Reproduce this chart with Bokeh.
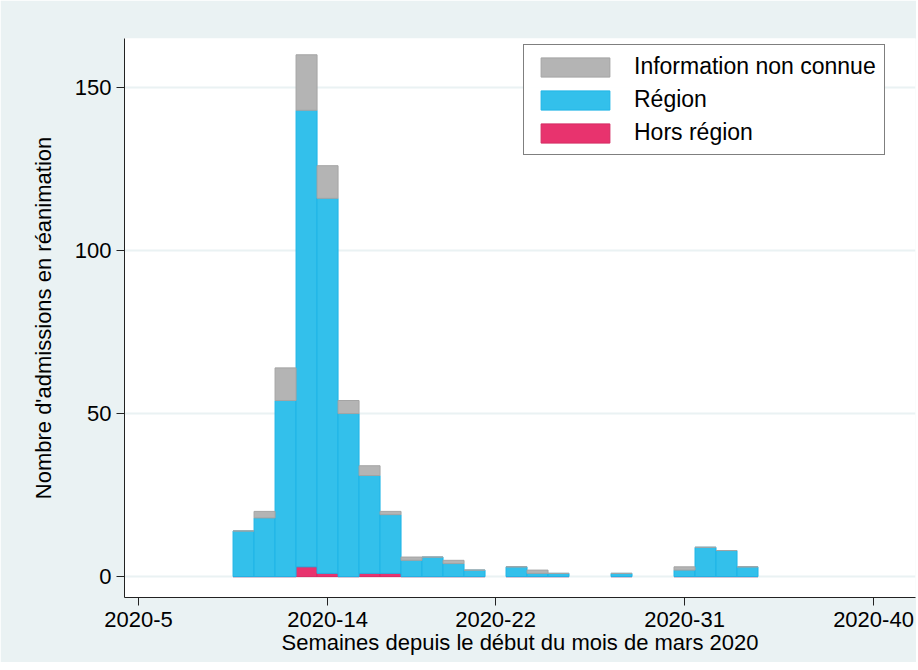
from bokeh.plotting import figure
from bokeh.models import ColumnDataSource, Legend, LegendItem, FixedTicker
from bokeh.embed import file_html
from bokeh.resources import INLINE

weeks = [10, 11, 12, 13, 14, 15, 16, 17, 18, 19, 20, 21, 23, 24, 25, 28, 31, 32, 33, 34]
hors = [0, 0, 0, 3, 1, 0, 1, 1, 0, 0, 0, 0, 0, 0, 0, 0, 0, 0, 0, 0]
region = [14, 18, 54, 140, 115, 50, 30, 18, 5, 6, 4, 2, 3, 1, 1, 1, 2, 9, 8, 3]
inconnue = [0, 2, 10, 17, 10, 4, 3, 1, 1, 0, 1, 0, 0, 1, 0, 0, 1, 0, 0, 0]
tick_pos = [5, 14, 22, 31, 40]
tick_labels = ["2020-5", "2020-14", "2020-22", "2020-31", "2020-40"]

src = ColumnDataSource(dict(week=weeks, hors=hors, region=region, inconnue=inconnue))

bg = "#eaf2f3"
p = figure(width=916, height=662, x_range=(4.33, 42), y_range=(-6.4, 165),
           output_backend="svg", toolbar_location=None, tools="",
           background_fill_color="white", border_fill_color=bg,
           min_border_left=124, min_border_top=38, min_border_right=1, min_border_bottom=65)
p.outline_line_color = None

r = p.vbar_stack(["hors", "region", "inconnue"], x="week", width=1.0, source=src,
                 fill_color=["#e8336e", "#33c0eb", "#b4b4b4"],
                 line_color=["#d42a62", "#1eb4e6", "#a4a4a4"], line_width=1)

legend = Legend(items=[LegendItem(label="Information non connue", renderers=[r[2]]),
                       LegendItem(label="Région", renderers=[r[1]]),
                       LegendItem(label="Hors région", renderers=[r[0]])],
                location=(399, 442))
legend.margin = 0
legend.padding = 8
legend.label_text_font = "Liberation Sans"
legend.label_text_font_size = "23px"
legend.label_text_color = "black"
legend.border_line_color = "black"
legend.border_line_width = 1
legend.glyph_width = 86
legend.glyph_height = 24
legend.spacing = 6
legend.label_standoff = 16
legend.label_height = 24
p.add_layout(legend)

p.xaxis.ticker = FixedTicker(ticks=tick_pos)
p.xaxis.major_label_overrides = {t: l for t, l in zip(tick_pos, tick_labels)}
p.yaxis.ticker = FixedTicker(ticks=[0, 50, 100, 150])
p.xaxis.axis_label = "Semaines depuis le début du mois de mars 2020"
p.yaxis.axis_label = "Nombre d'admissions en réanimation"
for ax in (p.xaxis, p.yaxis):
    ax.axis_label_text_font = "Liberation Sans"
    ax.axis_label_text_font_style = "normal"
    ax.axis_label_text_font_size = "22px"
    ax.axis_label_text_color = "black"
    ax.major_label_text_font = "Liberation Sans"
    ax.major_label_text_font_size = "22px"
    ax.major_label_text_color = "black"
    ax.axis_line_color = "#222222"
    ax.major_tick_line_color = "#222222"
    ax.major_tick_out = 8
    ax.major_tick_in = 0
    ax.minor_tick_line_color = None
p.xaxis.axis_label_standoff = 0
p.xaxis.major_label_standoff = 6
p.yaxis.axis_label_standoff = 16
p.xgrid.grid_line_color = None
p.ygrid.grid_line_color = bg
p.ygrid.grid_line_width = 2

open("out.html", "w").write(file_html(p, INLINE))
